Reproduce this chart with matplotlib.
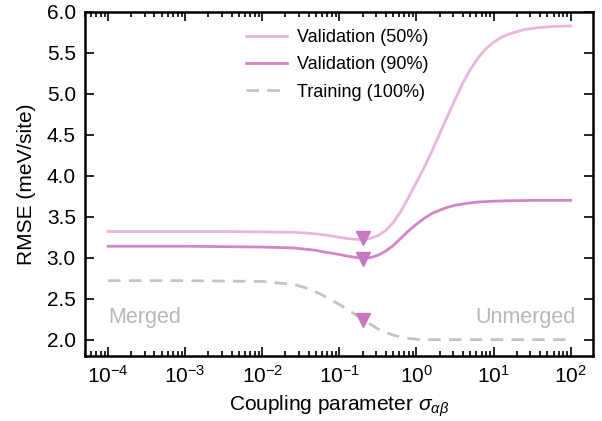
import numpy as np
import matplotlib
matplotlib.use("Agg")
import matplotlib.pyplot as plt

plt.rcParams['font.family'] = ['Liberation Sans', 'DejaVu Sans']
plt.rcParams['mathtext.fontset'] = 'custom'
plt.rcParams['mathtext.rm'] = 'Liberation Sans'
plt.rcParams['mathtext.it'] = 'Liberation Sans:italic'
plt.rcParams['mathtext.bf'] = 'Liberation Sans:bold'

# log10 of coupling parameter
log_sigma = [-4, -3, -2.5, -2.0, -1.6, -1.5, -1.4, -1.3, -1.2, -1.1, -1.0, -0.9, -0.8,
             -0.7, -0.6, -0.5, -0.4, -0.3, -0.2, -0.1, 0.0, 0.1, 0.2, 0.3, 0.4, 0.5,
             0.6, 0.7, 0.8, 0.9, 1.0, 1.1, 1.2, 1.3, 1.4, 1.5, 1.6, 1.8, 2.0]
val50 = [3.32, 3.32, 3.32, 3.315, 3.31, 3.305, 3.30, 3.29, 3.28, 3.265, 3.25, 3.235, 3.225,
         3.22, 3.235, 3.27, 3.33, 3.43, 3.57, 3.74, 3.92, 4.10, 4.30, 4.51, 4.72, 4.93,
         5.13, 5.30, 5.44, 5.55, 5.63, 5.69, 5.73, 5.76, 5.785, 5.80, 5.81, 5.825, 5.83]
val90 = [3.14, 3.14, 3.135, 3.13, 3.12, 3.11, 3.10, 3.09, 3.07, 3.055, 3.04, 3.02, 3.005,
         2.995, 3.0, 3.03, 3.08, 3.15, 3.24, 3.33, 3.41, 3.48, 3.54, 3.58, 3.615, 3.64,
         3.655, 3.67, 3.68, 3.685, 3.69, 3.693, 3.695, 3.697, 3.698, 3.70, 3.70, 3.70, 3.70]
train = [2.72, 2.72, 2.715, 2.71, 2.675, 2.65, 2.62, 2.58, 2.535, 2.48, 2.43, 2.37, 2.31,
         2.25, 2.19, 2.13, 2.09, 2.055, 2.03, 2.015, 2.005, 2.0, 2.0, 2.0, 2.0, 2.0,
         2.0, 2.0, 2.0, 2.0, 2.0, 2.0, 2.0, 2.0, 2.0, 2.0, 2.0, 2.0, 2.0]
opt_sigma = [0.2, 0.2, 0.2]
opt_vals = [3.235, 2.99, 2.24]

sigma = 10.0 ** np.array(log_sigma)

c50 = '#e8b5de'
c90 = '#d385c8'
cmark = '#c878c0'
cgray = '#c4c4c4'
ctext = '#b8b8b8'

fig = plt.figure(figsize=(6.02, 4.21), dpi=100)
ax = fig.add_axes([0.141, 0.1544, 0.844, 0.8171])

ax.plot(sigma, val50, color=c50, lw=2.0, label='Validation (50%)')
ax.plot(sigma, val90, color=c90, lw=2.0, label='Validation (90%)')
ax.plot(sigma, train, color=cgray, lw=2.0, ls=(0, (4.5, 3)), label='Training (100%)')
ax.plot(opt_sigma, opt_vals, ls='none', marker='v', ms=10, color=cmark, zorder=5)

ax.set_xscale('log')
ax.set_xlim(5e-5, 1.95e2)
ax.set_ylim(1.8, 6.0)
ax.set_yticks([2.0, 2.5, 3.0, 3.5, 4.0, 4.5, 5.0, 5.5, 6.0])
ax.set_xticks([1e-4, 1e-3, 1e-2, 1e-1, 1e0, 1e1, 1e2])
ax.yaxis.set_major_formatter(matplotlib.ticker.FormatStrFormatter('%.1f'))
ax.xaxis.set_minor_locator(matplotlib.ticker.LogLocator(base=10, subs=np.arange(2, 10) * 1.0, numticks=20))

ax.tick_params(which='both', direction='in', top=True, right=True, labelsize=15, width=1.2)
ax.tick_params(which='major', length=6.5, pad=6.5)
ax.tick_params(which='minor', length=3.5)
for s in ax.spines.values():
    s.set_linewidth(1.8)

ax.set_xlabel(r'Coupling parameter $\sigma_{\alpha\beta}$', fontsize=15, labelpad=5)
ax.set_ylabel('RMSE (meV/site)', fontsize=15, labelpad=8)

ax.text(0.0453, 0.096, 'Merged', transform=ax.transAxes, color=ctext, fontsize=15.5,
        ha='left', va='baseline')
ax.text(0.9665, 0.096, 'Unmerged', transform=ax.transAxes, color=ctext, fontsize=15.5,
        ha='right', va='baseline')

ax.legend(loc='upper left', bbox_to_anchor=(0.317, 0.95), frameon=False, fontsize=13,
          handlelength=2.3, handletextpad=0.5, labelspacing=0.57,
          borderpad=0, borderaxespad=0)

fig.savefig('out.png', dpi=100)
